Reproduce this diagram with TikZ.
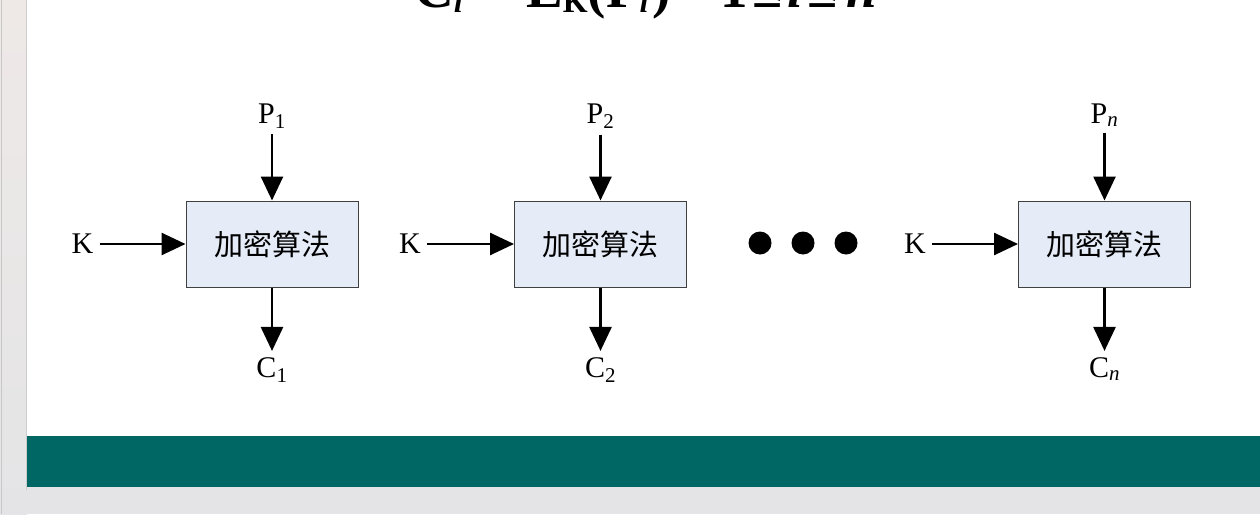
\documentclass[tikz,border=0pt]{standalone}
\usepackage{fontspec}
\setmainfont{Liberation Serif}
\newfontfamily\cjk{Noto Sans CJK SC}
\usetikzlibrary{arrows.meta,positioning}

\definecolor{slidebar}{RGB}{0,103,101}
\definecolor{boxfill}{RGB}{230,236,247}
\definecolor{frametop}{RGB}{238,233,231}
\definecolor{framebot}{RGB}{228,228,230}
\newcommand{\sbx}[1]{\raisebox{-0.08em}{\fontsize{32}{32}\selectfont #1}}

\begin{document}
\begin{tikzpicture}[x=1pt,y=-1pt,
  algbox/.style={draw=black!75,line width=1pt,fill=boxfill,minimum width=172pt,
    minimum height=86pt,inner sep=0pt,font=\cjk\fontsize{29}{29}\selectfont},
  lbl/.style={inner sep=6pt,font=\fontsize{30}{30}\selectfont},
  arr/.style={line width=2.6pt,-{Triangle[length=24pt,width=22pt]}},
  dot/.style={circle,fill=black,inner sep=0pt,minimum size=23pt}]
  \clip (0,0) rectangle (1260,514);

  % slide frame
  \fill[framebot] (0,0) rectangle (1260,514);
  \shade[top color=frametop,bottom color=framebot] (0,0) rectangle (27,514);
  \draw[black!22,line width=1pt] (1.5,0) -- (1.5,514);
  \fill[white] (27,0) rectangle (1260,487);
  \draw[black!20,line width=1pt] (26,0) -- (26,490);
  \fill[slidebar] (27,436) rectangle (1260,487);

  % formula, cut by the top edge
  \node[anchor=base west,inner sep=0pt,font=\bfseries\fontsize{55}{55}\selectfont] (eq)
    at (414,8) {C\sbx{\textit{i}}\hspace{16pt}=\hspace{16pt}E\sbx{K}(P\sbx{\textit{i}}\hspace{4pt})\hspace{50pt}1\hspace{4pt}≤\hspace{5pt}\textit{i}\hspace{5pt}≤\hspace{8pt}\textit{n}};

  % encryption blocks
  \node[algbox] (E1) at (272,244) {加密算法};
  \node[algbox] (E2) at (600.5,244) {加密算法};
  \node[algbox] (En) at (1104.5,244) {加密算法};

  \node[lbl,anchor=base] (P1) at (272,123) {P\textsubscript{1}};
  \node[lbl,anchor=base] (P2) at (600.5,123) {P\textsubscript{2}};
  \node[lbl,anchor=base] (Pn) at (1104.5,123) {P\textsubscript{\textit{n}}};

  \node[lbl,anchor=base] (C1) at (272,377) {C\textsubscript{1}};
  \node[lbl,anchor=base] (C2) at (600.5,377) {C\textsubscript{2}};
  \node[lbl,anchor=base] (Cn) at (1104.5,377) {C\textsubscript{\textit{n}}};

  \node[lbl] (K1) at (82.5,244) {K};
  \node[lbl] (K2) at (410,244) {K};
  \node[lbl] (Kn) at (915,244) {K};

  \draw[arr] (P1) -- (E1);
  \draw[arr] (P2) -- (E2);
  \draw[arr] (Pn) -- (En);
  \draw[arr] (E1) -- (C1);
  \draw[arr] (E2) -- (C2);
  \draw[arr] (En) -- (Cn);
  \draw[arr] (K1) -- (E1);
  \draw[arr] (K2) -- (E2);
  \draw[arr] (Kn) -- (En);

  \node[dot] (d1) at (760,243) {};
  \node[dot] (d2) at (803,243) {};
  \node[dot] (d3) at (846,243) {};
\end{tikzpicture}
\end{document}
